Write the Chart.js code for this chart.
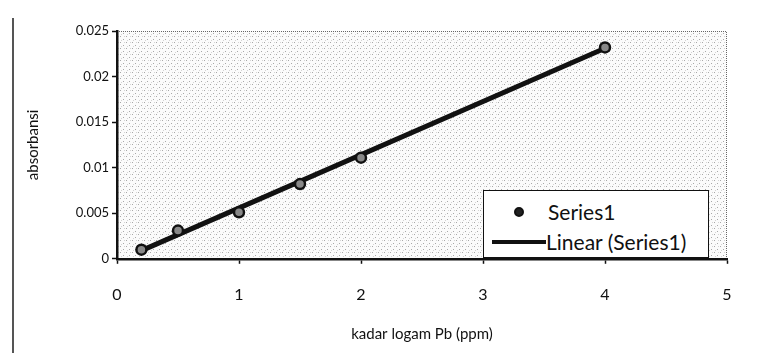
<!DOCTYPE html>
<html>
<head>
<meta charset="utf-8">
<script src="https://cdn.jsdelivr.net/npm/chart.js@4/dist/chart.umd.min.js"></script>
<style>
    body { margin: 0; background: #fff; }
    #wrap { position: relative; width: 757px; height: 353px; }
    #page-edge { position: absolute; left: 12px; top: 18px; width: 2px; height: 335px; background: #555; }
    #legend {
        position: absolute; left: 483px; top: 190px; width: 226px; height: 68px;
        background: #fff; border: 1.5px solid #111; box-sizing: border-box;
        font-family: Lato, "Open Sans", sans-serif; font-size: 21px; color: #111;
    }
    #legend .row { position: absolute; left: 0; height: 26px; line-height: 26px; }
    #legend .dot {
        position: absolute; left: 30px; top: 8px; width: 10px; height: 10px;
        border-radius: 50%; background: #222; box-sizing: border-box; border: 2px solid #111;
    }
    #legend .bar { position: absolute; left: 8px; top: 11px; width: 54px; height: 4px; background: #111; }
</style>
</head>
<body>
<div id="wrap">
    <canvas id="chart" width="757" height="353"></canvas>
    <div id="page-edge"></div>
    <div id="legend">
        <div class="row" style="top:8px;"><span class="dot"></span><span style="position:absolute;left:64px;white-space:nowrap;">Series1</span></div>
        <div class="row" style="top:38px;"><span class="bar"></span><span style="position:absolute;left:62px;white-space:nowrap;">Linear (Series1)</span></div>
    </div>
</div>
<script>
// titik data
var kadarPb = [0.2, 0.5, 1, 1.5, 2, 4];
var absorbansi = [0.001, 0.0031, 0.0051, 0.0082, 0.0111, 0.0232];

// ujung garis trend linear
var trendX = [0.2, 4];
var trendY = [0.0009, 0.0231];

var xTicks = [0, 1, 2, 3, 4, 5];
var yTicks = ['0', '0.005', '0.01', '0.015', '0.02', '0.025'];

/**
 * Pola titik-titik abu untuk latar area plot
 */
function makePattern() {
    var c = document.createElement('canvas');
    c.width = 6;
    c.height = 6;
    var g = c.getContext('2d');
    g.fillStyle = '#fbfbfb';
    g.fillRect(0, 0, 6, 6);
    g.fillStyle = '#a8a8a8';
    g.fillRect(0, 0, 1, 1);
    g.fillRect(3, 3, 1, 1);
    g.fillStyle = '#d4d4d4';
    g.fillRect(4, 0, 1, 1);
    g.fillRect(1, 4, 1, 1);
    return g.createPattern(c, 'repeat');
}

var plotBackground = {
    id: 'plotBackground',
    beforeDraw: function(chart) {
        var a = chart.chartArea;
        var ctx = chart.ctx;
        ctx.save();
        ctx.fillStyle = makePattern();
        ctx.fillRect(a.left, a.top, a.right - a.left, a.bottom - a.top);
        // tepi atas dan kanan bertitik
        ctx.strokeStyle = '#666';
        ctx.lineWidth = 1;
        ctx.setLineDash([1, 1]);
        ctx.beginPath();
        ctx.moveTo(a.left, a.top + 0.5);
        ctx.lineTo(a.right - 0.5, a.top + 0.5);
        ctx.lineTo(a.right - 0.5, a.bottom);
        ctx.stroke();
        ctx.restore();
    }
};

var fontFamily = 'Lato, "Open Sans", sans-serif';

new Chart(document.getElementById('chart').getContext('2d'), {
    type: 'scatter',
    data: {
        datasets: [
            {
                label: 'Linear (Series1)',
                data: trendX.map(function(x, i) { return { x: x, y: trendY[i] }; }),
                showLine: true,
                borderColor: '#111',
                borderWidth: 5,
                pointRadius: 0,
                order: 2
            },
            {
                label: 'Series1',
                data: kadarPb.map(function(x, i) { return { x: x, y: absorbansi[i] }; }),
                pointRadius: 5,
                pointBackgroundColor: '#888',
                pointBorderColor: '#111',
                pointBorderWidth: 2.5,
                order: 1
            }
        ]
    },
    options: {
        responsive: false,
        animation: false,
        layout: { padding: { left: 18, right: 30, top: 31, bottom: 10 } },
        plugins: {
            legend: { display: false },
            tooltip: { enabled: false }
        },
        scales: {
            x: {
                type: 'linear',
                min: 0,
                max: 5,
                afterBuildTicks: function(axis) {
                    axis.ticks = xTicks.map(function(v) { return { value: v }; });
                },
                ticks: {
                    color: '#111',
                    padding: 21,
                    font: { family: fontFamily, size: 16 }
                },
                grid: { drawOnChartArea: false, drawTicks: true, tickLength: 5, color: '#111', tickWidth: 1.5 },
                border: { color: '#111', width: 2.5 },
                title: {
                    display: true,
                    text: 'kadar logam Pb (ppm)',
                    color: '#111',
                    padding: { top: 0, bottom: 0 },
                    font: { family: fontFamily, size: 15 }
                }
            },
            y: {
                type: 'linear',
                min: 0,
                max: 0.025,
                afterBuildTicks: function(axis) {
                    axis.ticks = yTicks.map(function(v) { return { value: parseFloat(v) }; });
                },
                afterFit: function(axis) {
                    axis.width = 99;
                },
                ticks: {
                    color: '#111',
                    padding: 3,
                    font: { family: fontFamily, size: 13 },
                    callback: function(value) {
                        var idx = yTicks.map(parseFloat).indexOf(value);
                        return idx >= 0 ? yTicks[idx] : '';
                    }
                },
                grid: { drawOnChartArea: false, drawTicks: true, tickLength: 5, color: '#111', tickWidth: 1.5 },
                border: { color: '#111', width: 2.5 },
                title: {
                    display: true,
                    text: 'absorbansi',
                    color: '#111',
                    padding: { top: 6, bottom: 0 },
                    font: { family: fontFamily, size: 15 }
                }
            }
        }
    },
    plugins: [plotBackground]
});
</script>
</body>
</html>
